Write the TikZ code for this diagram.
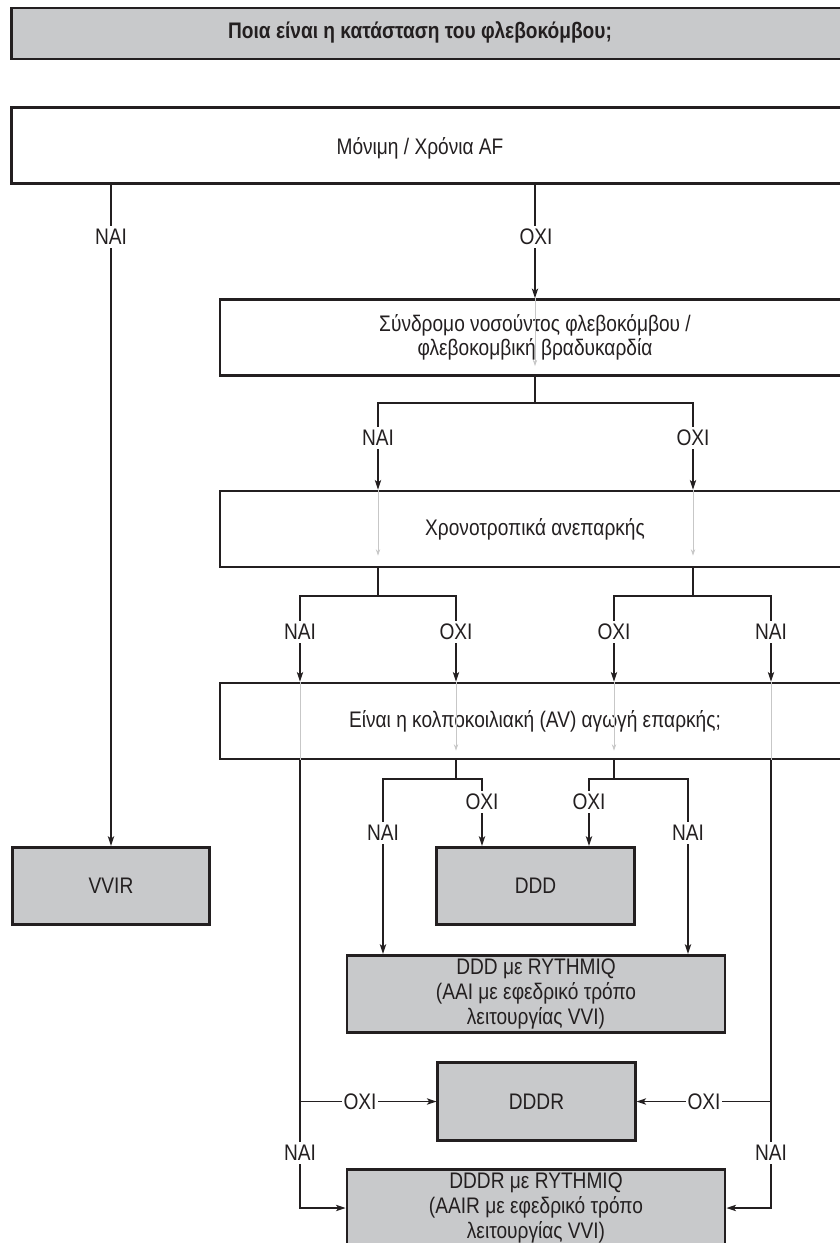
\documentclass[tikz,border=0pt]{standalone}
\usepackage{fontspec}
\setmainfont[FakeStretch=0.85]{Liberation Sans}
\usetikzlibrary{arrows.meta,positioning}
\definecolor{boxgray}{HTML}{C8C9CB}
\definecolor{ink}{HTML}{231F20}
\tikzset{
  qbox/.style={draw=ink,line width=2pt,minimum width=15.75cm,minimum height=1.9cm,align=center,inner sep=0pt},
  rbox/.style={qbox,fill=boxgray,minimum width=4.93cm,minimum height=1.94cm},
  ln/.style={draw=ink,line width=0.8pt},
  arr/.style={ln,-{Stealth[length=2.4mm,width=1.6mm,inset=0.6mm]}},
  ghost/.style={draw=black!22,line width=0.5pt},
  garr/.style={ghost,-{Stealth[length=1.6mm,width=1.1mm]}},
  yn/.style={fill=white,inner xsep=1pt,inner ysep=2pt},
}

\begin{document}
\begin{tikzpicture}[x=0.025cm,y=-0.025cm,font=\fontsize{16}{17.5}\selectfont,text=ink]
\clip (0,0) rectangle (840,1243);
% questions
\node[qbox,fill=boxgray,minimum width=20.95cm,minimum height=1.275cm] (q0) at (431,33.5) {};
\node[font=\fontsize{16}{17.5}\selectfont\bfseries] (q0t) at (420,32) {Ποια είναι η κατάσταση του φλεβοκόμβου;};
\node[qbox,minimum width=20.95cm] (af) at (431,145.5) {};
\node (aft) at (420,148) {Μόνιμη / Χρόνια AF};
\node[qbox] (sss) at (535,337.5) {Σύνδρομο νοσούντος φλεβοκόμβου /\\φλεβοκομβική βραδυκαρδία};
\node[qbox] (chr) at (535,529) {Χρονοτροπικά ανεπαρκής};
\node[qbox] (av) at (535,721) {Είναι η κολποκοιλιακή (AV) αγωγή επαρκής;};
% modes
\node[rbox] (vvir) at (111,886) {VVIR};
\node[rbox] (ddd) at (535.5,886) {DDD};
\node[rbox,minimum width=9.45cm] (dddq) at (536,994) {DDD με RYTHMIQ\\(AAI με εφεδρικό τρόπο\\λειτουργίας VVI)};
\node[rbox] (dddr) at (536.5,1101.5) {DDDR};
\node[rbox,minimum width=9.45cm] (dddrq) at (536,1208) {DDDR με RYTHMIQ\\(AAIR με εφεδρικό τρόπο\\λειτουργίας VVI)};

% branch points
\coordinate (sY) at (378,403);  \coordinate (sN) at (693,403);
\coordinate (cYY) at (300,596); \coordinate (cYN) at (456,596);
\coordinate (cNN) at (614,596); \coordinate (cNY) at (771,596);
\coordinate (aNY) at (383,779); \coordinate (aNN) at (482,779);
\coordinate (bNN) at (589,779); \coordinate (bNY) at (688,779);

% faint lines seen through the boxes
\draw[garr] (sss.north) -- ++(0,68);
\foreach \c in {sY,sN} \draw[garr] (\c |- chr.north) -- ++(0,66);
\foreach \c in {cYN,cNN} \draw[garr] (\c |- av.north) -- ++(0,69);
\foreach \c in {cYY,cNY} \draw[ghost] (\c |- av.north) -- (\c |- av.south);

% connectors
\draw[arr] (af.south -| vvir.north) -- (vvir.north);
\draw[arr] (af.south -| sss.north) -- (sss.north);
\foreach \c in {sY,sN} \draw[arr] (sss.south) |- (\c) -- (\c |- chr.north);
\foreach \c in {cYY,cYN} \draw[arr] (sY |- chr.south) |- (\c) -- (\c |- av.north);
\foreach \c in {cNN,cNY} \draw[arr] (sN |- chr.south) |- (\c) -- (\c |- av.north);
\draw[arr] (cYN |- av.south) |- (aNN) -- (aNN |- ddd.north);
\draw[arr] (cYN |- av.south) |- (aNY) -- (aNY |- dddq.north);
\draw[arr] (cNN |- av.south) |- (bNN) -- (bNN |- ddd.north);
\draw[arr] (cNN |- av.south) |- (bNY) -- (bNY |- dddq.north);
\draw[arr] (cYY |- av.south) |- (dddrq.west);
\draw[arr] (cNY |- av.south) |- (dddrq.east);
\draw[arr] (cYY |- dddr.west) -- (dddr.west);
\draw[arr] (cNY |- dddr.east) -- (dddr.east);

% yes / no labels
\foreach \x/\y/\t [count=\i] in {111/237/ΝΑΙ,536/237/ΟΧΙ,378/438/ΝΑΙ,693/438/ΟΧΙ,
  300/632/ΝΑΙ,456/632/ΟΧΙ,614/632/ΟΧΙ,771/632/ΝΑΙ,482/802/ΟΧΙ,589/802/ΟΧΙ,
  383/833/ΝΑΙ,688/833/ΝΑΙ,360/1102/ΟΧΙ,704/1102/ΟΧΙ,300/1153/ΝΑΙ,771/1153/ΝΑΙ}
  \node[yn] (lb\i) at (\x,\y) {\t};
\end{tikzpicture}
\end{document}
